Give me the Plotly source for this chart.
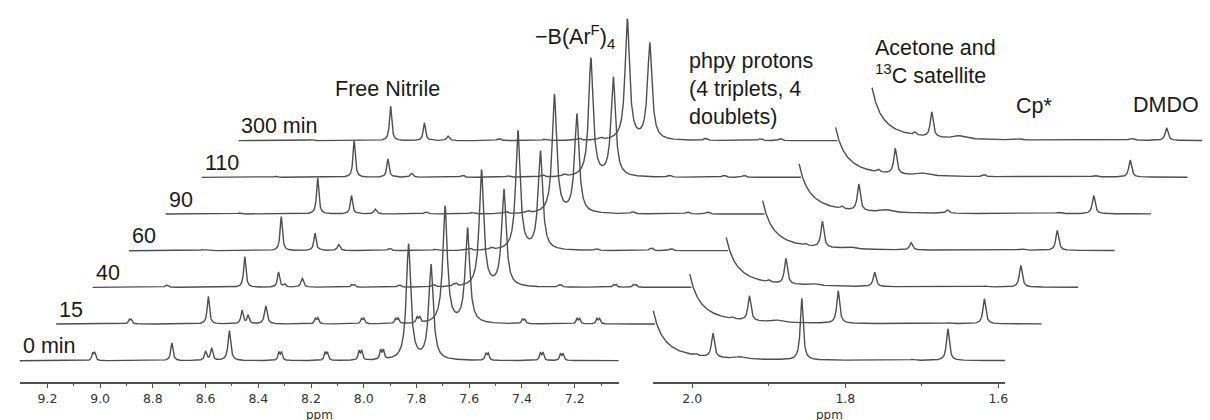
import numpy as np
import plotly.graph_objects as go

# ---------------- data ----------------
trace_labels = ["0 min", "15", "40", "60", "90", "110", "300 min"]

left_tick_values = [9.2, 9.0, 8.8, 8.6, 8.4, 8.2, 8.0, 7.8, 7.6, 7.4, 7.2]
left_minor_values = [9.1, 8.9, 8.7, 8.5, 8.3, 8.1, 7.9, 7.7, 7.5, 7.3, 7.1]
right_tick_values = [2.0, 1.8, 1.6]
right_minor_values = [1.9, 1.7]
axis_title = "ppm"

# aromatic region (ppm) – peak centres, half widths (ppm)
left_peak_ppm = [9.028, 9.020, 8.728, 8.600, 8.577, 8.510, 8.322, 8.312,
                 8.147, 8.138, 8.018, 8.008, 7.936, 7.926, 7.830, 7.745,
                 7.537, 7.528, 7.330, 7.320, 7.254, 7.244]
left_peak_hwhm = [0.004, 0.004, 0.005, 0.005, 0.005, 0.006, 0.004, 0.004,
                  0.004, 0.004, 0.004, 0.004, 0.004, 0.004, 0.0102, 0.0102,
                  0.004, 0.004, 0.004, 0.004, 0.004, 0.004]
# peak heights for each spectrum
left_h_0 = [7, 7, 17.7, 9, 12, 30, 8, 8, 7.5, 7.5, 9, 9, 9, 9, 115, 95, 6.5, 6.5, 7.5, 7.5, 6.5, 6.5]
left_h_15 = [4, 4, 27.6, 13.5, 8, 18, 5.5, 5.5, 5, 5, 5, 5, 5.5, 5.5, 117, 95, 4, 4, 5, 5, 5, 5]
left_h_40 = [2, 2, 30.7, 15, 3, 9, 2.5, 2.5, 1.8, 1.8, 2, 2, 2.5, 2.5, 116, 97, 2, 2, 2.5, 2.5, 2.5, 2.5]
left_h_60 = [1, 1, 34, 17.5, 1, 6, 1.8, 1.8, 1.2, 1.2, 1.6, 1.6, 1.6, 1.6, 118.5, 98.5, 1.6, 1.6, 2.2, 2.2, 1.6, 1.6]
left_h_90 = [0.8, 0.8, 36, 18.4, 0.5, 5, 1.6, 1.6, 1.2, 1.2, 1.6, 1.6, 1.6, 1.6, 118, 99, 1.6, 1.6, 1.6, 1.6, 1.6, 1.6]
left_h_110 = [0.8, 0.8, 36.7, 18.3, 0.5, 4, 1.6, 1.6, 1.2, 1.2, 1.6, 1.6, 1.6, 1.6, 117.6, 99, 1.6, 1.6, 1.6, 1.6, 1.6, 1.6]
left_h_300 = [0.8, 0.8, 34.4, 17.7, 0.5, 4.4, 1.6, 1.6, 1.2, 1.2, 1.6, 1.6, 1.6, 1.6, 120, 96.7, 1.6, 1.6, 1.6, 1.6, 1.6, 1.6]

# aliphatic region (ppm): acetone (off-scale), 13C satellite, acetone, bump, Cp*, bump, DMDO
right_peak_ppm = [2.078, 1.995, 1.973, 1.938, 1.857, 1.712, 1.666]
right_peak_hwhm = [0.002, 0.002, 0.0023, 0.008, 0.0022, 0.004, 0.0022]
right_h_0 = [9160, 1.5, 24, 2, 61.7, 1, 31.7]
right_h_15 = [9160, 1.5, 24.7, 2, 32.5, 1, 25]
right_h_40 = [9160, 2, 25.5, 2, 14.3, 1, 21.7]
right_h_60 = [9160, 2, 26, 2, 7.3, 1.5, 20]
right_h_90 = [9160, 2.5, 26.5, 2.5, 3.5, 1.5, 18.3]
right_h_110 = [9160, 2.5, 25.5, 2.5, 2, 1.5, 17]
right_h_300 = [9700, 3, 25, 3, 1, 2, 12.5]

left_heights = [left_h_0, left_h_15, left_h_40, left_h_60, left_h_90, left_h_110, left_h_300]
right_heights = [right_h_0, right_h_15, right_h_40, right_h_60, right_h_90, right_h_110, right_h_300]

# spectral windows (ppm) of each panel
left_window = (9.305, 7.0335)
right_window = (2.051, 1.591)

# ---------------- layout geometry ----------------
W, H = 1210, 420
L_PX_PER_PPM = 264.3
L_X_AT_92 = 39.5
R_PX_PER_PPM = 767.0
R_X_AT_20 = 686.0
DX_PX = 36.55      # horizontal stacking offset (px)
DY = 36.67         # vertical stacking offset (px units)
BASE0 = H - 352.7  # baseline of front spectrum
AXIS_Y_PX = 375
PPM_LABEL_Y_PX = 407


def left_px(ppm):
    return L_X_AT_92 + (9.2 - ppm) * L_PX_PER_PPM


def right_px(ppm):
    return R_X_AT_20 + (2.0 - ppm) * R_PX_PER_PPM


left_range = [9.2 + L_X_AT_92 / L_PX_PER_PPM, 9.2 - (W - L_X_AT_92) / L_PX_PER_PPM]
right_range = [2.0 + R_X_AT_20 / R_PX_PER_PPM, 2.0 - (W - R_X_AT_20) / R_PX_PER_PPM]
dl = DX_PX / L_PX_PER_PPM
dr = DX_PX / R_PX_PER_PPM


def lorentz(grid, centres, hwhm, heights):
    y = np.zeros_like(grid)
    for c, w, h in zip(centres, hwhm, heights):
        y += h * w * w / ((grid - c) ** 2 + w * w)
    return y


LINE = dict(color="#4f4f4f", width=1.4)
fig = go.Figure()

gl = np.linspace(left_window[0], left_window[1], 3000)
gr = np.linspace(right_window[0], right_window[1], 1800)

for i in range(len(trace_labels)):
    base = BASE0 + i * DY
    yl = base + lorentz(gl, left_peak_ppm, left_peak_hwhm, left_heights[i])
    fig.add_trace(go.Scatter(x=gl - i * dl, y=yl, mode="lines", line=LINE,
                             xaxis="x", yaxis="y", hoverinfo="skip", showlegend=False))
    yr = base + lorentz(gr, right_peak_ppm, right_peak_hwhm, right_heights[i])
    fig.add_trace(go.Scatter(x=gr - i * dr, y=yr, mode="lines", line=LINE,
                             xaxis="x2", yaxis="y", hoverinfo="skip", showlegend=False))

# invisible traces so the two scale axes are drawn
fig.add_trace(go.Scatter(x=list(left_window), y=[-50, -50], mode="lines", line=dict(width=0),
                         xaxis="x3", yaxis="y", hoverinfo="skip", showlegend=False))
fig.add_trace(go.Scatter(x=list(right_window), y=[-50, -50], mode="lines", line=dict(width=0),
                         xaxis="x4", yaxis="y", hoverinfo="skip", showlegend=False))

AX_COL = "#4f4f4f"
TICK_FONT = dict(family="DejaVu Sans, Verdana, sans-serif", size=12.5, color="#333333")
PPM_FONT = dict(family="DejaVu Sans, Verdana, sans-serif", size=12, color="#333333")


def scale_axis(window, px_fn, ticks, minors):
    a, b = px_fn(window[0]), px_fn(window[1])
    return dict(domain=[a / W, b / W], range=list(window), anchor="free",
                position=1 - AXIS_Y_PX / H, showline=True, linecolor=AX_COL, linewidth=1.5,
                ticks="outside", ticklen=4, tickwidth=1.3, tickcolor=AX_COL,
                tickmode="array", tickvals=ticks, ticktext=[f"{v:.1f}" for v in ticks],
                ticklabelstandoff=0,
                minor=dict(ticks="outside", ticklen=2.5, tickwidth=1.2, tickcolor=AX_COL,
                           tickmode="array", tickvals=minors, showgrid=False),
                showgrid=False, zeroline=False, tickfont=TICK_FONT, fixedrange=True)


LBL_FONT = dict(family="Liberation Sans, Arial, sans-serif", size=21.5, color="#1a1a1a")

annotations = []
for i, lab in enumerate(trace_labels):
    annotations.append(dict(x=left_window[0] - i * dl, y=BASE0 + i * DY, xref="x", yref="y",
                            text=lab, showarrow=False, xanchor="left", yanchor="middle",
                            xshift=1, yshift=14.5, font=LBL_FONT))

# axis titles ("ppm") centred under each scale
for win, fn in ((left_window, left_px), (right_window, right_px)):
    cx = (fn(win[0]) + fn(win[1])) / 2
    annotations.append(dict(x=cx / W, y=1 - PPM_LABEL_Y_PX / H, xref="paper", yref="paper",
                            text=axis_title, showarrow=False, xanchor="center",
                            yanchor="middle", font=PPM_FONT, borderpad=0))


def paper_note(text, xpx, ypx, xanchor="left", align="left"):
    return dict(x=xpx / W, y=1 - ypx / H, xref="paper", yref="paper", text=text,
                showarrow=False, xanchor=xanchor, yanchor="middle", align=align, font=LBL_FONT)


annotations += [
    paper_note("Free Nitrile", 380.5, 81, xanchor="center"),
    paper_note("\u2212B(Ar<sup>F</sup>)<sub>4</sub>", 526, 29),
    paper_note("phpy protons<br>(4 triplets, 4<br>doublets)", 681, 81),
    paper_note("Acetone and<br><sup>13</sup>C satellite", 867, 54),
    paper_note("Cp*", 1008, 98),
    paper_note("DMDO", 1126, 97),
]

fig.update_layout(
    width=W, height=H, margin=dict(l=0, r=0, t=0, b=0),
    paper_bgcolor="white", plot_bgcolor="rgba(0,0,0,0)",
    xaxis=dict(domain=[0, 1], range=left_range, visible=False, fixedrange=True),
    xaxis2=dict(domain=[0, 1], range=right_range, visible=False, fixedrange=True, anchor="y"),
    xaxis3=scale_axis(left_window, left_px, left_tick_values, left_minor_values),
    xaxis4=scale_axis(right_window, right_px, right_tick_values, right_minor_values),
    yaxis=dict(domain=[0, 1], range=[0, H], visible=False, fixedrange=True),
    annotations=annotations,
    showlegend=False,
)

fig.write_html("out.html")
